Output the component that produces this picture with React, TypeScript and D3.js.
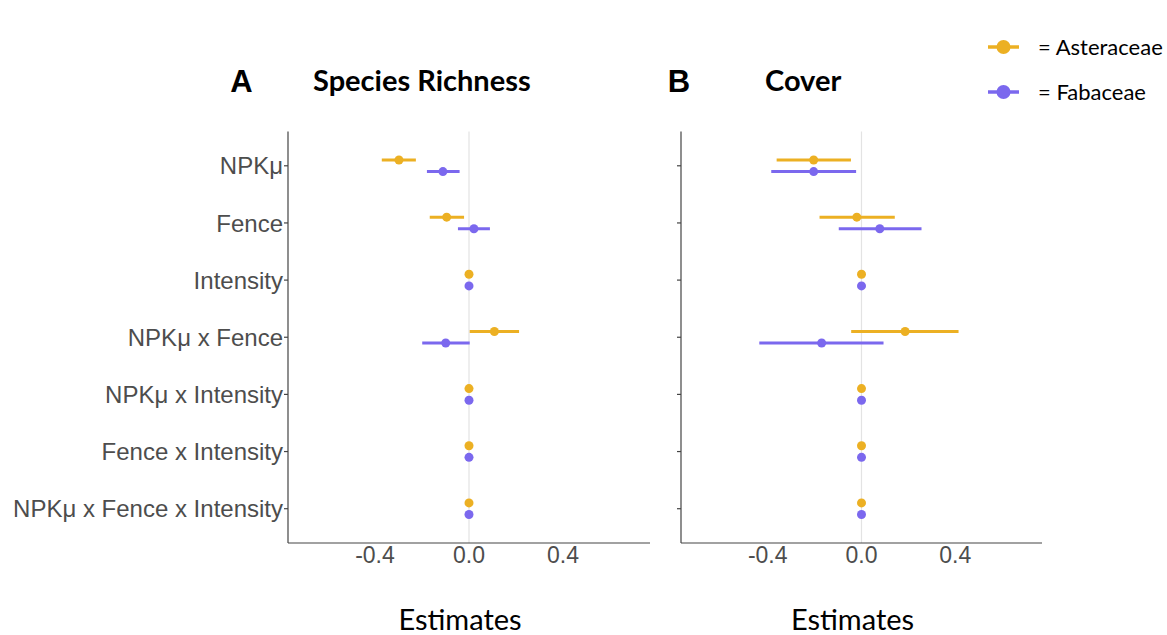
import * as d3 from "d3";

// model terms, top to bottom
const terms = [
  "NPKμ",
  "Fence",
  "Intensity",
  "NPKμ x Fence",
  "NPKμ x Intensity",
  "Fence x Intensity",
  "NPKμ x Fence x Intensity",
];

const xTicks = [-0.4, 0.0, 0.4];

// Species Richness estimates
const richAstEst = [-0.298, -0.095, 0, 0.108, 0, 0, 0];
const richAstLo = [-0.371, -0.167, 0, 0.003, 0, 0, 0];
const richAstHi = [-0.226, -0.021, 0, 0.213, 0, 0, 0];
const richFabEst = [-0.111, 0.021, 0, -0.099, 0, 0, 0];
const richFabLo = [-0.179, -0.047, 0, -0.199, 0, 0, 0];
const richFabHi = [-0.04, 0.089, 0, 0.003, 0, 0, 0];

// Cover estimates
const covAstEst = [-0.204, -0.02, 0, 0.186, 0, 0, 0];
const covAstLo = [-0.362, -0.179, 0, -0.044, 0, 0, 0];
const covAstHi = [-0.045, 0.142, 0, 0.414, 0, 0, 0];
const covFabEst = [-0.204, 0.078, 0, -0.17, 0, 0, 0];
const covFabLo = [-0.385, -0.097, 0, -0.436, 0, 0, 0];
const covFabHi = [-0.023, 0.256, 0, 0.094, 0, 0, 0];

const ORANGE = "#ECB023";
const PURPLE = "#7B68EE";
const GREY = "#4d4d4d";

type Series = { est: number[]; lo: number[]; hi: number[]; color: string; dy: number };

const Panel = ({
  x0,
  x1,
  series,
  showLabels,
}: {
  x0: number;
  x1: number;
  series: Series[];
  showLabels: boolean;
}) => {
  const top = 131.5;
  const bottom = 543;
  const x = d3.scaleLinear().domain([-0.77, 0.77]).range([x0, x1]);
  const y = d3.scalePoint<string>().domain(terms).range([top, bottom]).padding(0.6);

  return (
    <g>
      {/* zero reference line */}
      <line x1={x(0)} x2={x(0)} y1={top} y2={bottom} stroke="#e3e3e3" strokeWidth={1.2} />
      {/* axes */}
      <line x1={x0} x2={x0} y1={top} y2={bottom} stroke="#444" strokeWidth={1.2} />
      <line x1={x0} x2={x1} y1={bottom} y2={bottom} stroke="#444" strokeWidth={1.2} />
      {terms.map((t) => (
        <g key={t}>
          <line x1={x0 - 4} x2={x0} y1={y(t)} y2={y(t)} stroke="#444" strokeWidth={1.2} />
          {showLabels && (
            <text
              x={x0 - 5}
              y={y(t)!}
              dy="0.36em"
              textAnchor="end"
              fontFamily="Liberation Sans, Arial, sans-serif"
              fontSize={24}
              fill={GREY}
            >
              {t}
            </text>
          )}
        </g>
      ))}
      {xTicks.map((v) => (
        <text
          key={v}
          x={x(v)}
          y={bottom + 20}
          textAnchor="middle"
          fontFamily="Liberation Sans, Arial, sans-serif"
          fontSize={23}
          fill={GREY}
        >
          {d3.format(".1f")(v).replace("−", "-")}
        </text>
      ))}
      {series.map((s, si) =>
        terms.map((t, i) => (
          <g key={si + t}>
            {s.hi[i] - s.lo[i] > 0 && (
              <line
                x1={x(s.lo[i])}
                x2={x(s.hi[i])}
                y1={y(t)! + s.dy}
                y2={y(t)! + s.dy}
                stroke={s.color}
                strokeWidth={3}
              />
            )}
            <circle cx={x(s.est[i])} cy={y(t)! + s.dy} r={4.5} fill={s.color} />
          </g>
        ))
      )}
      <text
        x={(x0 + x1) / 2 - 9}
        y={630}
        textAnchor="middle"
        fontFamily="Lato, sans-serif"
        fontSize={29}
        fill="#000"
      >
        Estimates
      </text>
    </g>
  );
};

const App = () => {
  const richSeries: Series[] = [
    { est: richAstEst, lo: richAstLo, hi: richAstHi, color: ORANGE, dy: -5.8 },
    { est: richFabEst, lo: richFabLo, hi: richFabHi, color: PURPLE, dy: 5.8 },
  ];
  const covSeries: Series[] = [
    { est: covAstEst, lo: covAstLo, hi: covAstHi, color: ORANGE, dy: -5.8 },
    { est: covFabEst, lo: covFabLo, hi: covFabHi, color: PURPLE, dy: 5.8 },
  ];

  return (
    <svg
      width={1167}
      height={635}
      style={{ position: "absolute", left: 0, top: 0, background: "#fff" }}
    >
      <Panel x0={288} x1={650} series={richSeries} showLabels={true} />
      <Panel x0={681} x1={1042} series={covSeries} showLabels={false} />

      <g fontWeight="bold" fill="#000">
        <text x={241.5} y={92} textAnchor="middle" fontSize={31} fontFamily="Liberation Sans, Arial, sans-serif">A</text>
        <text x={313} y={91} fontSize={29} fontFamily="Lato, sans-serif">Species Richness</text>
        <text x={679} y={92} textAnchor="middle" fontSize={31} fontFamily="Liberation Sans, Arial, sans-serif">B</text>
        <text x={765} y={91} fontSize={29} fontFamily="Lato, sans-serif">Cover</text>
      </g>

      {/* legend */}
      {[
        { label: "= Asteraceae", color: ORANGE, y: 47 },
        { label: "= Fabaceae", color: PURPLE, y: 92 },
      ].map((d) => (
        <g key={d.label}>
          <line x1={988} x2={1019} y1={d.y} y2={d.y} stroke={d.color} strokeWidth={3.5} />
          <circle cx={1003.5} cy={d.y} r={7} fill={d.color} />
          <text x={1038} y={d.y} dy="0.35em" fontFamily="Lato, sans-serif" fontSize={22} fill="#000">
            {d.label}
          </text>
        </g>
      ))}
    </svg>
  );
};

export default App;
